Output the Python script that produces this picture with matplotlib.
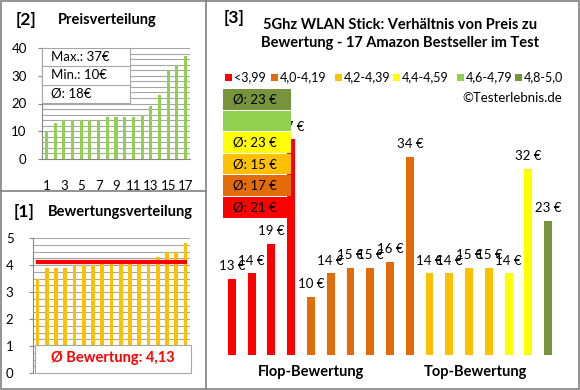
import matplotlib
matplotlib.use('Agg')
import matplotlib.pyplot as plt
import numpy as np
from matplotlib.patches import Rectangle
from matplotlib.lines import Line2D

plt.rcParams['font.family'] = ['Lato', 'DejaVu Sans']

# product data (in order of the right chart)
prices = [13, 14, 19, 37, 10, 14, 15, 15, 16, 34, 14, 14, 15, 15, 14, 32, 23]
ratings = [3.5, 3.9, 3.9, 3.9, 4.0, 4.0, 4.0, 4.1, 4.1, 4.1,
           4.2, 4.2, 4.2, 4.3, 4.5, 4.5, 4.8]
class_labels = ['<3,99', '4,0-4,19', '4,2-4,39', '4,4-4,59', '4,6-4,79', '4,8-5,0']
class_edges = [0, 4.0, 4.2, 4.4, 4.6, 4.8, 5.01]
class_colors = ['#FF0000', '#E36C0A', '#FFC000', '#FFFF00', '#92D050', '#77933C']
group_labels = ['Flop-Bewertung', 'Top-Bewertung']

W, H = 580, 390
GRID = '#A6A6A6'
fig = plt.figure(figsize=(W / 100, H / 100), dpi=100)


def px_axes(x0, y0, x1, y1):
    return fig.add_axes([x0 / W, 1 - y1 / H, (x1 - x0) / W, (y1 - y0) / H])


def fx(x):
    return x / W


def fy(y):
    return 1 - y / H


def fig_rect(x0, y0, x1, y1, **kw):
    fig.patches.append(Rectangle((fx(x0), fy(y1)), fx(x1 - x0), (y1 - y0) / H,
                                 transform=fig.transFigure, figure=fig, **kw))


def fig_line(xs, ys, **kw):
    fig.lines.append(Line2D([fx(v) for v in xs], [fy(v) for v in ys],
                            transform=fig.transFigure, figure=fig, **kw))


def avg_round(v):
    return int(np.floor(v + 0.5))


cls = np.digitize(ratings, class_edges) - 1
n = len(prices)
xs = np.arange(1, n + 1)

# ---------------- [2] Preisverteilung ----------------
ax1 = px_axes(42, 48, 190, 159)
ax1.bar(xs, sorted(prices), width=0.35, color='#92D050', zorder=3)
ax1.set_xlim(0.5, n + 0.5)
ax1.set_ylim(0, 40)
ax1.set_yticks([0, 10, 20, 30, 40])
ax1.set_yticks(np.arange(0, 41, 2), minor=True)
ax1.set_xticks(xs[::2])
ax1.grid(axis='y', which='both', color=GRID, lw=0.8, zorder=0)
ax1.tick_params(which='both', length=0, labelsize=9.5, colors='#000000')
ax1.tick_params(axis='y', which='major', length=3, color='#868686', pad=8)
ax1.tick_params(axis='x', pad=15)
for s in ['top', 'right']:
    ax1.spines[s].set_visible(False)
for s in ['left', 'bottom']:
    ax1.spines[s].set_color('#868686')
box_txt = ['Max.: %d€' % max(prices), 'Min.: %d€' % min(prices),
           'Ø: %d€' % avg_round(np.mean(prices))]
fig_rect(42, 48, 130, 103, facecolor='white', edgecolor='#A6A6A6', lw=0.8, zorder=2)
for i, t in enumerate(box_txt):
    y = 48 + 18.3 * (i + 0.5)
    fig.text(fx(51), fy(y), t, fontsize=9.5, va='center', ha='left')
    if i > 0:
        fig_line([42, 130], [48 + 18.3 * i] * 2, color='#A6A6A6', lw=0.8, zorder=3)
fig.text(fx(16), fy(20), '[2]', fontsize=12.5, fontweight='bold', va='center')
fig.text(fx(58), fy(20), 'Preisverteilung', fontsize=10.5, fontweight='bold', va='center')

# ---------------- [1] Bewertungsverteilung ----------------
ax2 = px_axes(33, 238, 190, 373)
ax2.bar(xs, sorted(ratings), width=0.4, color='#FFC000', zorder=3)
mean_r = np.mean(ratings)
ax2.plot([1, n], [mean_r, mean_r], color='#FF0000', lw=3, zorder=4)
ax2.set_xlim(0.5, n + 0.5)
ax2.set_ylim(0, 5)
ax2.set_yticks(range(6))
ax2.set_yticks(np.arange(0, 5.01, 0.25), minor=True)
ax2.set_xticks([])
ax2.grid(axis='y', which='both', color=GRID, lw=0.8, zorder=0)
ax2.tick_params(which='both', length=0, labelsize=9.5)
ax2.tick_params(axis='y', which='major', length=3, color='#868686', pad=11)
for s in ['top', 'right', 'bottom']:
    ax2.spines[s].set_visible(False)
ax2.spines['left'].set_color('#868686')
fig_rect(35, 345, 191, 373, facecolor='white', edgecolor='#A6A6A6', lw=0.8, zorder=2)
fig.text(fx(113), fy(358), 'Ø Bewertung: %s' % ('%.2f' % mean_r).replace('.', ','),
         fontsize=10.5, fontweight='bold', color='#FF0000', ha='center', va='center')
fig.text(fx(14), fy(212), '[1]', fontsize=12.5, fontweight='bold', va='center')
fig.text(fx(48), fy(212), 'Bewertungsverteilung', fontsize=10.5, fontweight='bold', va='center')

# ---------------- [3] Preis / Bewertung ----------------
ax3 = px_axes(222, 122, 558, 355)
bar_colors = [class_colors[c] for c in cls]
ax3.bar(xs, prices, width=0.4, color=bar_colors, zorder=3)
for x, p in zip(xs, prices):
    ax3.annotate('%d €' % p, (x, p), xytext=(0, 5), textcoords='offset points',
                 ha='center', va='bottom', fontsize=9.5)
ax3.set_xlim(0.5, n + 0.5)
ax3.set_ylim(0, 40)
ax3.axis('off')
ax3.text(5, -1.8, group_labels[0], fontsize=10.5, fontweight='bold', ha='center', va='top')
ax3.text(13.3, -1.8, group_labels[1], fontsize=10.5, fontweight='bold', ha='center', va='top')

fig.text(fx(224), fy(18), '[3]', fontsize=12.5, fontweight='bold', va='center')
fig.text(fx(400), fy(34),
         '5Ghz WLAN Stick: Verhältnis von Preis zu\nBewertung - 17 Amazon Bestseller im Test',
         fontsize=10.5, fontweight='bold', ha='center', va='center', linespacing=1.45)

# legend
leg_x = [225, 271, 335, 393, 457, 515]
for lx, lab, col in zip(leg_x, class_labels, class_colors):
    fig_rect(lx, 74, lx + 6.5, 80.5, facecolor=col, edgecolor='none', zorder=3)
    fig.text(fx(lx + 9), fy(77), lab, fontsize=9, va='center', ha='left')
fig.text(fx(562), fy(98), '©Testerlebnis.de', fontsize=9.5, va='center', ha='right')

# average boxes per class, top = best class
for k in range(len(class_colors)):
    row = len(class_colors) - 1 - k
    y0 = 89 + 21.6 * row
    fig_rect(223, y0, 291, y0 + 20.5, facecolor=class_colors[k], edgecolor='none', zorder=4)
    vals = [p for p, c in zip(prices, cls) if c == k]
    if vals:
        fig.text(fx(233), fy(y0 + 10.5), 'Ø: %d €' % avg_round(np.mean(vals)),
                 fontsize=9.5, va='center', ha='left', zorder=5)

# panel frames
fig_rect(0.5, 0.5, W - 1, H - 1, facecolor='none', edgecolor='#808080', lw=1.2, zorder=6)
fig_line([206, 206], [0, H], color='#808080', lw=1.2, zorder=6)
fig_line([0, 206], [191, 191], color='#808080', lw=1.2, zorder=6)

fig.savefig('out.png', dpi=100)
